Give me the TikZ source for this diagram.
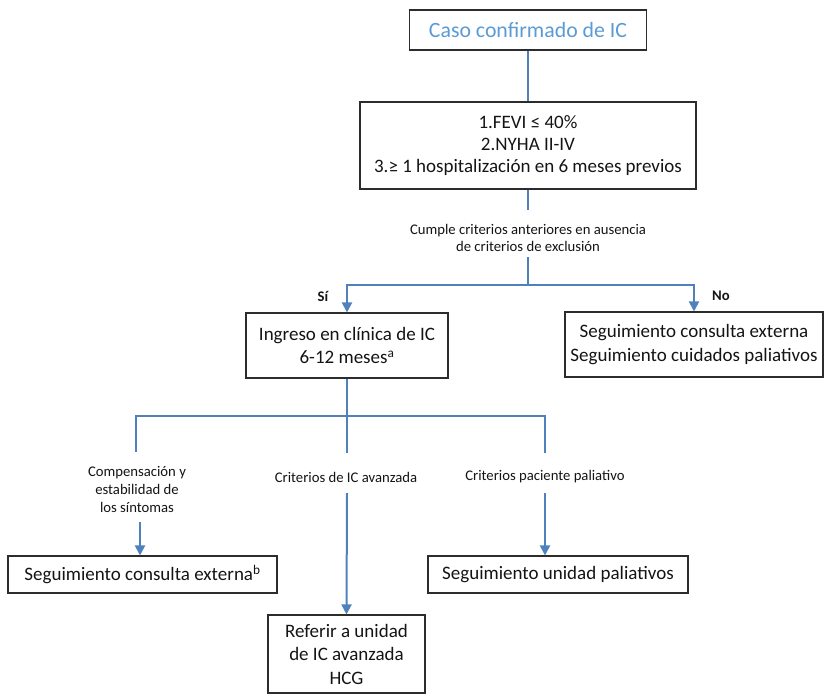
\documentclass[tikz,border=0pt]{standalone}
\usepackage{fontspec}
\setmainfont{Carlito}
\usetikzlibrary{arrows.meta}
\definecolor{linkblue}{HTML}{4F81BD}
\definecolor{titleblue}{HTML}{5B9BD5}
\definecolor{ink}{HTML}{141414}
\tikzset{
  box/.style={draw=ink!90, line width=1.1pt, rectangle, inner sep=0pt, align=center,
              text=ink, font=\fontsize{19}{23.5}\selectfont},
  lbl/.style={align=center, text=ink, inner sep=0pt, font=\fontsize{14.7}{17.8}\selectfont},
  conn/.style={draw=linkblue, line width=2pt},
  arr/.style={conn, -{Triangle[width=10pt,length=10pt]}},
}
\begin{document}
\begin{tikzpicture}[x=1pt, y=-1pt]
\useasboundingbox (0,0) rectangle (825,694);

% boxes
\node[box, minimum width=237pt, minimum height=40pt, text=titleblue,
      font=\fontsize{21.8}{26}\selectfont] (caso) at (528,30) {Caso confirmado de IC};
\node[box, minimum width=336pt, minimum height=87pt, font=\fontsize{19}{22}\selectfont] (crit) at (528,145.5)
  {1.FEVI ≤ 40\%\\2.NYHA II-IV\\3.≥ 1 hospitalización en 6 meses previos};
\node[box, minimum width=202pt, minimum height=65pt] (ingreso) at (347,345.5)
  {Ingreso en clínica de IC\\6-12 meses\textsuperscript{a}};
\node[box, minimum width=258pt, minimum height=65pt] (segext) at (694,344.5)
  {Seguimiento consulta externa\\Seguimiento cuidados paliativos};
\node[box, minimum width=269pt, minimum height=37pt] (consulta) at (142.5,574.5)
  {Seguimiento consulta externa\textsuperscript{b}};
\node[box, minimum width=157pt, minimum height=78pt] (avanz) at (346.5,654)
  {Referir a unidad\\de IC avanzada\\HCG};
\node[box, minimum width=260pt, minimum height=37pt] (paliat) at (558,574.5)
  {Seguimiento unidad paliativos};

% branch labels
\node[lbl] (cumple) at (528,238) {Cumple criterios anteriores en ausencia\\de criterios de exclusión};
\node[lbl, font=\fontsize{14.7}{17.8}\selectfont\bfseries] (si) at (323,296) {Sí};
\node[lbl, font=\fontsize{14.7}{17.8}\selectfont\bfseries] (no) at (721,296) {No};
\node[lbl] (comp) at (137,489.5) {Compensación y\\estabilidad de\\los síntomas};
\node[lbl] (lavanz) at (346,477) {Criterios de IC avanzada};
\node[lbl] (lpal) at (545,477) {Criterios paciente paliativo};

% junction points
\coordinate (c1) at (528,210);
\coordinate (c2) at (528,257);
\coordinate (j1) at (528,285);
\coordinate (j2) at (347,416);
\coordinate (d1) at (136,452);
\coordinate (d2) at (347,453);
\coordinate (d3) at (545,453);
\coordinate (e1) at (140,522);
\coordinate (e2) at (347,493);
\coordinate (e3) at (545,493);

% connectors
\draw[conn] (caso.south) -- (crit.north);
\draw[conn] (crit.south) -- (c1);
\draw[conn] (c2) -- (j1);
\draw[arr] (j1) -| (ingreso.north);
\draw[arr] (j1) -| (segext.north);
\draw[conn] (ingreso.south) -- (j2);
\draw[conn] (j2) -| (d1);
\draw[conn] (j2) -- (d2);
\draw[conn] (j2) -| (d3);
\draw[arr] (e1) -- (e1 |- consulta.north);
\draw[arr] (e2) -- (avanz.north);
\draw[arr] (e3) -- (e3 |- paliat.north);
\end{tikzpicture}
\end{document}
